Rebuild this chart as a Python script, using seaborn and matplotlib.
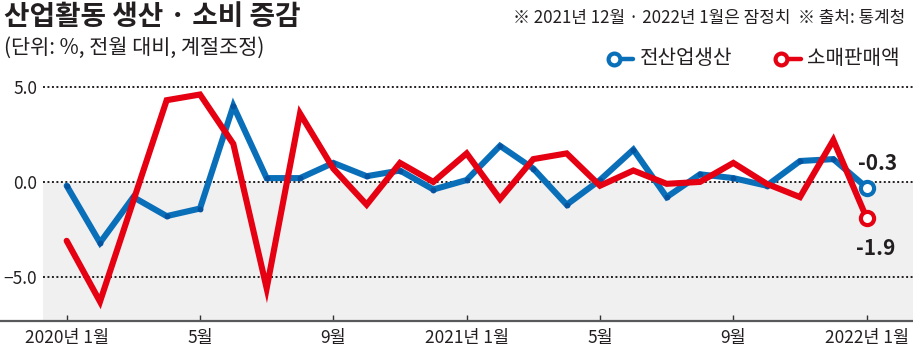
import matplotlib
matplotlib.use("Agg")
import matplotlib.pyplot as plt
import seaborn as sns
import pandas as pd
from matplotlib.lines import Line2D

# ---- data ----
months = [f"{y}-{m:02d}" for y in (2020, 2021, 2022) for m in range(1, 13)][:25]
production = [-0.2, -3.2, -0.8, -1.8, -1.4, 4.0, 0.2, 0.2, 1.0, 0.3, 0.6, -0.4,
              0.1, 1.9, 0.7, -1.2, 0.1, 1.7, -0.8, 0.4, 0.2, -0.2, 1.1, 1.2, -0.3]
retail = [-3.1, -6.3, -1.0, 4.3, 4.6, 2.0, -5.6, 3.6, 0.7, -1.2, 1.0, 0.0,
          1.5, -0.9, 1.2, 1.5, -0.2, 0.6, -0.1, 0.0, 1.0, -0.1, -0.8, 2.2, -1.9]
series_names = ["전산업생산", "소매판매액"]
tick_months = ["2020-01", "2020-05", "2020-09", "2021-01", "2021-05", "2021-09", "2022-01"]
tick_labels = ["2020년 1월", "5월", "9월", "2021년 1월", "5월", "9월", "2022년 1월"]
ytick_values = [5, 0, -5]
ytick_labels = ["5.0", "0.0", "\u22125.0"]
end_labels = ["-0.3", "-1.9"]

BLUE = "#0a6fb9"
RED = "#e50012"
DARK = "#231f20"
palette = {series_names[0]: BLUE, series_names[1]: RED}

idx = list(range(len(months)))
df = pd.DataFrame({
    "idx": idx * 2,
    "month": months * 2,
    "value": production + retail,
    "series": [series_names[0]] * len(months) + [series_names[1]] * len(months),
})

sns.set_theme(style="white")
plt.rcParams["font.family"] = ["Noto Sans CJK KR", "DejaVu Sans"]

W, H = 913, 359
fig = plt.figure(figsize=(W / 100, H / 100), dpi=100)
ax = fig.add_axes([43 / W, 38 / H, 870 / W, 249.3 / H])

YMIN, YMAX = -7.32, 5.8
ax.axhspan(YMIN, 0, color="#f0f0f1", lw=0, zorder=0)
for y in ytick_values:
    ax.axhline(y, color=DARK, lw=1.4, ls=(0, (1, 1.3)), zorder=1)

sns.lineplot(data=df, x="idx", y="value", hue="series", palette=palette,
             hue_order=series_names, lw=4.4, legend=False, ax=ax,
             solid_joinstyle="miter", solid_capstyle="round")
ax.lines[-2].set_zorder(2)
ax.lines[-1].set_zorder(4)
ax.scatter(idx[:-1], production[:-1], s=18, color="#0653a0", lw=0, zorder=3)

ax.plot(idx[-1], production[-1], "o", ms=9.5, mfc="white", mec=BLUE, mew=3, zorder=5)
ax.plot(idx[-1], retail[-1], "o", ms=9.5, mfc="white", mec=RED, mew=3, zorder=5)
ax.annotate(end_labels[0], (idx[-1], production[-1]), xytext=(8, 17.5),
            textcoords="offset points", ha="center", va="center",
            fontsize=15, fontweight="bold", color=DARK)
ax.annotate(end_labels[1], (idx[-1], retail[-1]), xytext=(6.5, -21.7),
            textcoords="offset points", ha="center", va="center",
            fontsize=15, fontweight="bold", color=DARK)

ax.set_xlim(-0.71, 25.39)
ax.set_ylim(YMIN, YMAX)
for s in ax.spines.values():
    s.set_visible(False)
ax.set_xticks([months.index(m) for m in tick_months])
ax.set_xticklabels(tick_labels)
ax.set_yticks(ytick_values)
ax.set_yticklabels(ytick_labels)
ax.tick_params(axis="x", direction="in", length=4.5, width=1, color="#333333",
               pad=6, labelsize=12.5, labelcolor=DARK, bottom=True)
ax.tick_params(axis="y", length=0, pad=4, labelsize=12.5, labelcolor=DARK)
ax.set_xlabel("")
ax.set_ylabel("")
ax.grid(False)

# bottom axis line spanning full width
fig.add_artist(Line2D([0, 1], [38 / H, 38 / H], color="#58595b", lw=1.6,
                      transform=fig.transFigure))

def fx(x):
    return x / W

def fy(y):
    return 1 - y / H

fig.text(fx(4), fy(17), "산업활동 생산 · 소비 증감", fontsize=20, fontweight="bold",
         ha="left", va="center", color=DARK)
fig.text(fx(4), fy(48), "(단위: %, 전월 대비, 계절조정)", fontsize=15,
         ha="left", va="center", color=DARK)
fig.text(fx(905), fy(18), "※ 2021년 12월 · 2022년 1월은 잠정치  ※ 출처: 통계청",
         fontsize=12.2, ha="right", va="center", color=DARK)

# legend
for (cx, lx, tx), name in zip([(614, 633, 640), (780.5, 801, 807)], series_names):
    col = palette[name]
    fig.add_artist(Line2D([fx(cx), fx(lx)], [fy(59), fy(59)], color=col, lw=3.2,
                          transform=fig.transFigure))
    fig.add_artist(Line2D([fx(cx)], [fy(59)], marker="o", ms=8.5, mfc="white",
                          mec=col, mew=3, transform=fig.transFigure))
    fig.text(fx(tx), fy(59), name, fontsize=14.5, ha="left", va="center", color=DARK)

fig.savefig("out.png", dpi=100)
